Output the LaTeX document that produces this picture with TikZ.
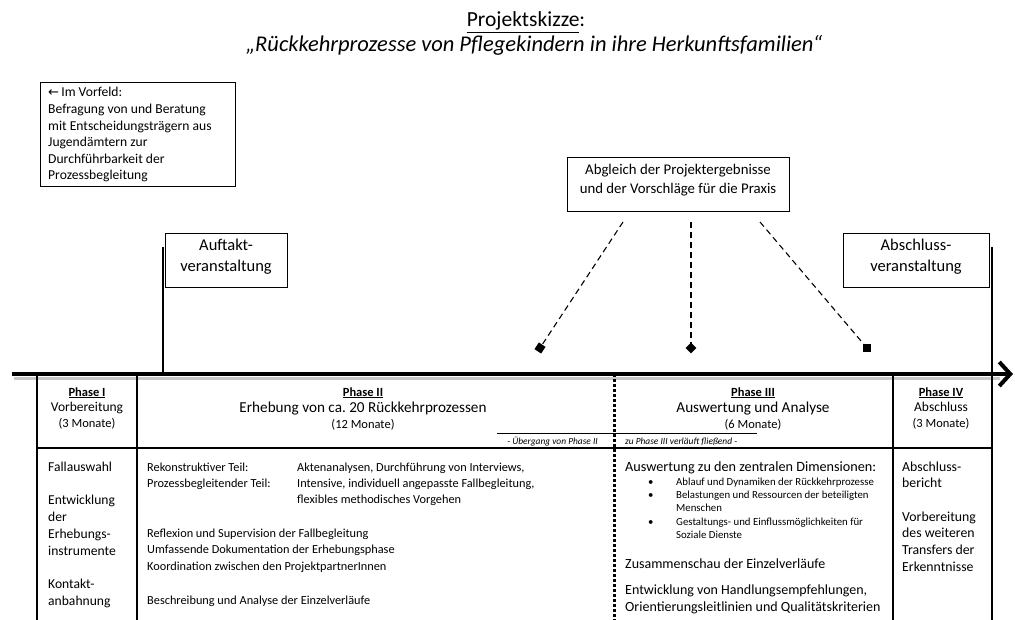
\documentclass[tikz,border=0pt]{standalone}
\usepackage{fontspec}
\setmainfont{Carlito}
\newfontfamily\symfont{DejaVu Sans}
\usetikzlibrary{arrows.meta}
\newcommand\fs[2]{\fontsize{#1}{#2}\selectfont}
\frenchspacing
\tikzset{
  frame/.style={draw, line width=0.9pt, inner sep=0pt},
  txt/.style={inner sep=0pt, anchor=base west, align=flush left},
  ctr/.style={inner sep=0pt, anchor=base, align=flush center},
  rule/.style={line width=2.6pt},
  thinrule/.style={line width=0.9pt},
  axisline/.style={line width=4pt},
  shade/.style={black!22},
  leader/.style={line width=1.1pt, dash pattern=on 6pt off 4pt},
  dotrule/.style={line width=3pt, dash pattern=on 3pt off 2pt},
  marker/.style={fill, inner sep=0pt, minimum size=8pt},
}
\begin{document}
\begin{tikzpicture}[x=1pt, y=-1pt]
\useasboundingbox (0,0) rectangle (1015,620);

% ---------- title ----------
\node[ctr, font={\fs{21.5}{24}}] (title) at (526,27) {\underline{Projektskizze}:};
\node[ctr, font={\fs{22.5}{26}\itshape}] (subtitle) at (534,52) {„Rückkehrprozesse von Pflegekindern in ihre Herkunftsfamilien“};

% ---------- preliminary note ----------
\node[frame, anchor=north west, minimum width=195pt, minimum height=104pt] (vorfeld) at (40,82) {};
\node[txt, text width=185pt, font={\fs{13.6}{16.6}}] (vorfeldtext) at (48,97) {{\symfont\fs{13}{16.6}←}\,Im Vorfeld:\\
Befragung von und Beratung\\
mit Entscheidungsträgern aus\\
Jugendämtern zur\\
Durchführbarkeit der\\
Prozessbegleitung};

% ---------- comparison box with leaders ----------
\node[frame, anchor=north west, minimum width=222pt, minimum height=54pt] (abgleich) at (567,157) {};
\node[ctr, text width=222pt, font={\fs{14.8}{18.5}}] (abgleichtext) at (678,175) {Abgleich der Projektergebnisse\\und der Vorschläge für die Praxis};

\coordinate (l1) at (623,222);
\coordinate (l2) at (691,222);
\coordinate (l3) at (760,222);
\node[marker, rotate=-34] (m1) at (540,348) {};
\node[marker, minimum size=7.5pt, rotate=45] (m2) at (691,348) {};
\node[marker] (m3) at (867,348) {};
\draw[leader] (l1) -- (m1.center);
\draw[leader] (l2) -- (m2.center);
\draw[leader] (l3) -- (m3.center);

% ---------- events ----------
\node[frame, anchor=north west, minimum width=122pt, minimum height=54pt] (auftakt) at (165,233) {};
\node[ctr, text width=122pt, font={\fs{16.5}{21}}] (auftakttext) at (226,251) {Auftakt-\\veranstaltung};
\node[frame, anchor=north west, minimum width=146pt, minimum height=54pt] (abschluss) at (843,233) {};
\node[ctr, text width=146pt, font={\fs{16.5}{21}}] (abschlusstext) at (916,251) {Abschluss-\\veranstaltung};

\coordinate (s1) at (163,247);
\coordinate (s2) at (992,247);

% ---------- time axis ----------
\coordinate (a0) at (12,374);
\coordinate (a1) at (1013,374);
\draw[shade, line width=3pt] (14,378.5) -- (1000,378.5);
\draw[axisline, -{Straight Barb[length=11pt, width=24pt]}] (a0) -- (a1);
\draw[rule] (s1) -- (163,374);

% ---------- phase table ----------
\coordinate (t0) at (37,374);
\coordinate (t1) at (137,374);
\coordinate (t2) at (614,374);
\coordinate (t3) at (893,374);
\draw[rule] (t0) -- (37,620);
\draw[rule] (t1) -- (137,620);
\draw[dotrule] (t2) -- (614,620);
\draw[rule] (t3) -- (893,620);
\draw[rule] (s2) -- (992,620);
\coordinate (h0) at (37,448);
\coordinate (h1) at (992,448);
\draw[rule] (h0) -- (h1);
\coordinate (u0) at (497,433);
\coordinate (u1) at (757,433);
\draw[thinrule] (u0) -- (u1);

% headers
\node[ctr, text width=100pt, font={\fs{12.5}{15.5}}] (p1head) at (87,396) {\underline{\textbf{Phase I}}\\\fs{13.5}{15.5}Vorbereitung\\\fs{12.5}{15.5}(3 Monate)};
\node[ctr, text width=400pt, font={\fs{12.5}{16}}] (p2head) at (363,396) {\underline{\textbf{Phase II}}\\\fs{15.2}{16}Erhebung von ca. 20 Rückkehrprozessen\\\fs{12.5}{16}(12 Monate)};
\node[ctr, text width=270pt, font={\fs{12.5}{16}}] (p3head) at (753,396) {\underline{\textbf{Phase III}}\\\fs{15.2}{16}Auswertung und Analyse\\\fs{12.5}{16}(6 Monate)};
\node[ctr, text width=99pt, font={\fs{12.5}{15.5}}] (p4head) at (941,396) {\underline{\textbf{Phase IV}}\\\fs{13.5}{15.5}Abschluss\\\fs{12.5}{15.5}(3 Monate)};

\node[inner sep=0pt, anchor=base east, font={\fs{9.4}{11}\itshape}] (uebergang1) at (598,444) {- Übergang von Phase II};
\node[inner sep=0pt, anchor=base west, font={\fs{9.4}{11}\itshape}] (uebergang2) at (625,444) {zu Phase III verläuft fließend -};

% body: phase I
\node[txt, text width=90pt, font={\fs{13.6}{16.8}}] (p1body) at (48,471) {Fallauswahl\\[16.8pt]
Entwicklung\\der\\Erhebungs-\\instrumente\\[16.8pt]
Kontakt-\\anbahnung};

% body: phase II
\node[txt, text width=150pt, font={\fs{12.3}{16}}] (p2labels) at (147,471) {Rekonstruktiver Teil:\\Prozessbegleitender Teil:};
\node[txt, text width=310pt, font={\fs{12.3}{16}}] (p2parts) at (297,471) {Aktenanalysen, Durchführung von Interviews,\\
Intensive, individuell angepasste Fallbegleitung,\\
flexibles methodisches Vorgehen};
\node[txt, text width=450pt, font={\fs{12.3}{16.8}}] (p2more) at (147,537) {Reflexion und Supervision der Fallbegleitung\\
Umfassende Dokumentation der Erhebungsphase\\
Koordination zwischen den ProjektpartnerInnen\\[16.8pt]
Beschreibung und Analyse der Einzelverläufe};

% body: phase III
\node[txt, text width=270pt, font={\fs{14.2}{17}}] (p3intro) at (625,471) {Auswertung zu den zentralen Dimensionen:};
\node[txt, text width=10pt, font={\fs{10.8}{13.2}}] (p3dots) at (648,485.5) {•\\•\\[13.2pt]•};
\node[txt, text width=215pt, font={\fs{10.8}{13.2}}] (p3items) at (676,485.5) {Ablauf und Dynamiken der Rückkehrprozesse\\
Belastungen und Ressourcen der beteiligten\\
Menschen\\
Gestaltungs- und Einflussmöglichkeiten für\\
Soziale Dienste};
\node[txt, text width=270pt, font={\fs{14}{17}}] (p3more) at (625,568) {Zusammenschau der Einzelverläufe};
\node[txt, text width=270pt, font={\fs{14}{17}}] (p3end) at (625,594) {Entwicklung von Handlungsempfehlungen,\\
Orientierungsleitlinien und Qualitätskriterien};

% body: phase IV
\node[txt, text width=88pt, font={\fs{13.8}{16.7}}] (p4body) at (902,471) {Abschluss-\\bericht\\[16.7pt]
Vorbereitung\\des weiteren\\Transfers der\\Erkenntnisse};
\end{tikzpicture}
\end{document}
